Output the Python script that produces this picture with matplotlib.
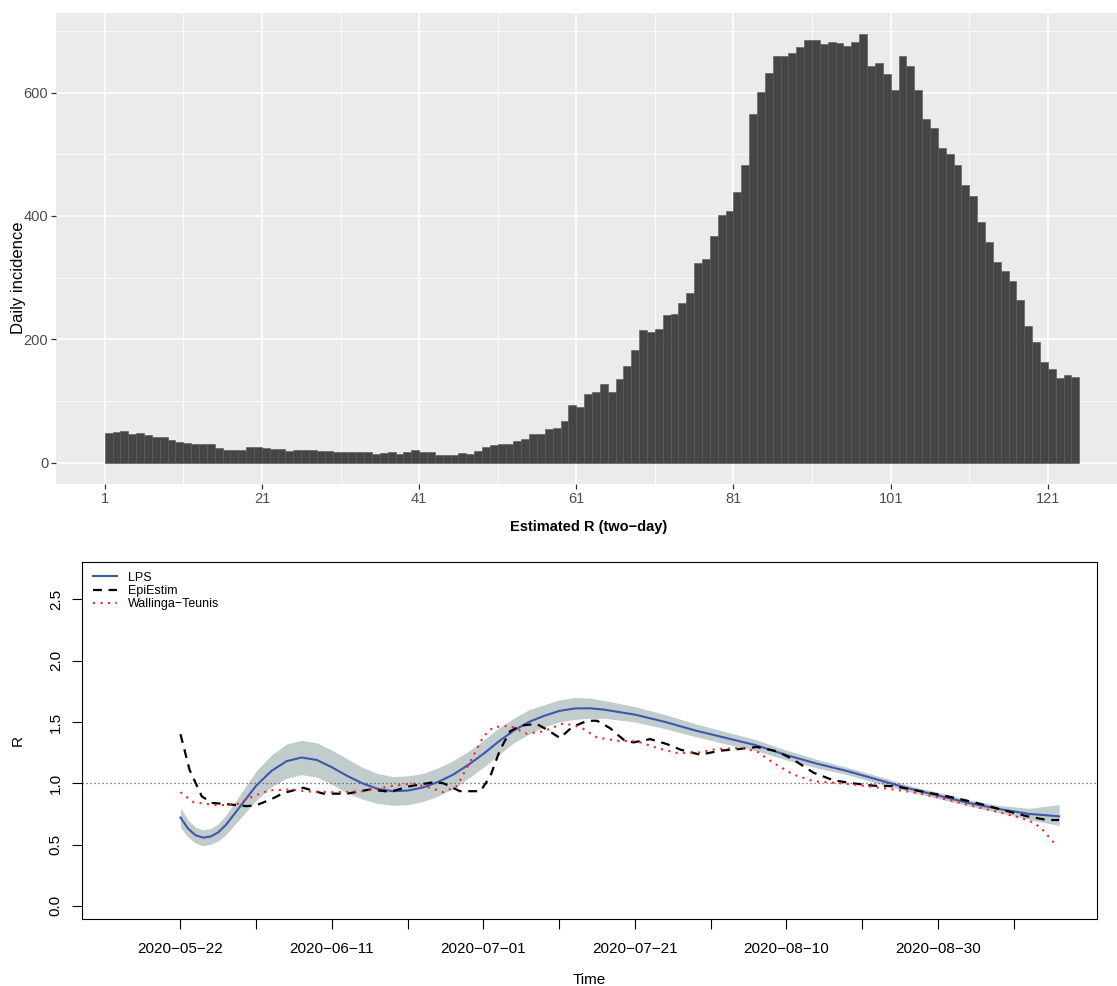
import matplotlib
matplotlib.use('Agg')
import matplotlib.pyplot as plt
import numpy as np
import pandas as pd

plt.rcParams['font.family'] = ['Liberation Sans', 'DejaVu Sans']

# ---------------- data: daily incidence (top) ----------------
incidence = [48, 50, 51, 46, 48, 44, 41, 41, 36, 34,
             31, 30, 30, 30, 23, 21, 20, 20, 26, 25,
             23, 22, 22, 18, 20, 20, 20, 18, 18, 17,
             17, 17, 17, 17, 14, 15, 17, 14, 17, 20,
             17, 17, 12, 12, 12, 15, 14, 18, 25, 28,
             30, 30, 35, 39, 46, 46, 54, 56, 67, 93,
             90, 111, 114, 127, 115, 135, 156, 182, 215, 211,
             217, 239, 241, 259, 275, 323, 330, 367, 401, 408,
             439, 483, 566, 601, 632, 659, 659, 665, 674, 686,
             686, 679, 683, 681, 675, 683, 695, 644, 648, 631,
             604, 659, 644, 604, 558, 543, 511, 501, 482, 451,
             433, 391, 357, 326, 310, 294, 263, 221, 195, 163,
             151, 137, 142, 139]

# ---------------- data: R estimates (bottom) ----------------
# time in days since first estimate date
first_date = '2020-05-22'
incidence_start = '2020-05-14'
last_date = '2020-09-15'

lps_t = [0, 1, 2, 3, 4, 5, 6, 8, 10, 12, 14, 16, 18, 20, 22, 24, 26, 28, 30, 32,
         34, 36, 38, 40, 42, 44, 46, 48, 50, 52, 54, 56, 60, 64, 68, 72, 76, 80,
         84, 88, 92, 96, 100, 104, 108, 112, 116]
lps_R = [0.72, 0.63, 0.575, 0.556, 0.565, 0.60, 0.66, 0.82, 0.98, 1.10, 1.18, 1.21,
         1.19, 1.13, 1.06, 1.00, 0.955, 0.935, 0.94, 0.965, 1.01, 1.07, 1.15, 1.24,
         1.34, 1.43, 1.50, 1.55, 1.59, 1.61, 1.612, 1.60, 1.56, 1.50, 1.43, 1.37,
         1.31, 1.23, 1.16, 1.10, 1.03, 0.96, 0.90, 0.84, 0.79, 0.75, 0.73]
lps_low = [0.64, 0.56, 0.51, 0.49, 0.50, 0.53, 0.58, 0.72, 0.86, 0.97, 1.04, 1.07,
           1.05, 0.99, 0.92, 0.87, 0.835, 0.82, 0.825, 0.85, 0.895, 0.955, 1.04, 1.13,
           1.23, 1.33, 1.40, 1.46, 1.50, 1.52, 1.53, 1.53, 1.50, 1.445, 1.38, 1.32,
           1.265, 1.19, 1.125, 1.07, 1.00, 0.935, 0.875, 0.815, 0.76, 0.705, 0.655]
lps_up = [0.80, 0.70, 0.64, 0.62, 0.63, 0.67, 0.74, 0.92, 1.10, 1.23, 1.32, 1.35,
          1.33, 1.27, 1.20, 1.13, 1.08, 1.055, 1.06, 1.08, 1.125, 1.185, 1.26, 1.35,
          1.45, 1.53, 1.60, 1.64, 1.68, 1.70, 1.695, 1.675, 1.625, 1.56, 1.485, 1.42,
          1.355, 1.27, 1.195, 1.13, 1.06, 0.985, 0.925, 0.865, 0.82, 0.795, 0.825]

epi_t = [0, 1.2, 2.8, 4.1, 6.5, 8.7, 10, 12, 13.6, 16.2, 18.8, 21.9, 25, 27.7, 30.3,
         33.4, 34.7, 36.9, 39.6, 40.9, 42.2, 43.5, 44.8, 47, 48.4, 50.1, 51.7, 53.7,
         55, 56.7, 58.5, 59.8, 62, 64.2, 66, 68.6, 71.3, 73.9, 76.1, 78.8, 80.9, 83.6,
         86.2, 88.9, 91.5, 94.2, 97.7, 101.2, 104.7, 108.3, 111.8, 114.4, 116]
epi_R = [1.40, 1.11, 0.894, 0.84, 0.827, 0.813, 0.82, 0.87, 0.92, 0.963, 0.916, 0.914,
         0.949, 0.93, 0.976, 1.008, 1.0, 0.935, 0.935, 1.057, 1.274, 1.423, 1.469, 1.485,
         1.437, 1.369, 1.458, 1.51, 1.51, 1.45, 1.355, 1.333, 1.36, 1.32, 1.274, 1.233,
         1.266, 1.28, 1.296, 1.26, 1.193, 1.085, 1.024, 0.998, 0.98, 0.976, 0.935, 0.894,
         0.846, 0.786, 0.73, 0.70, 0.70]

wt_t = [0, 1.7, 4.8, 7.4, 9.6, 11.8, 14.4, 17.1, 20.6, 24.1, 27.7, 30.7, 33, 34.7,
        36.5, 37.8, 39.1, 40, 41.3, 43.5, 45.7, 47.9, 50.6, 52.8, 55, 57.6, 60.3, 62.9,
        65.5, 68.2, 70.8, 73.9, 76.1, 78.3, 80.9, 83.6, 87.1, 90.7, 94.2, 97.7, 101.2,
        104.7, 108.3, 110.9, 112.7, 114, 115.5]
wt_R = [0.927, 0.846, 0.82, 0.827, 0.894, 0.943, 0.949, 0.932, 0.927, 0.935, 0.976,
        0.998, 0.963, 0.927, 0.976, 1.125, 1.274, 1.382, 1.458, 1.469, 1.404, 1.423,
        1.49, 1.458, 1.374, 1.347, 1.342, 1.288, 1.247, 1.247, 1.28, 1.288, 1.26, 1.166,
        1.071, 1.016, 1.0, 0.976, 0.949, 0.916, 0.867, 0.813, 0.76, 0.718, 0.678, 0.61,
        0.50]

legend_labels = ['LPS', 'EpiEstim', 'Wallinga\u2212Teunis']

W, H = 1117, 986
fig = plt.figure(figsize=(W / 100, H / 100), dpi=100)

# ================= top: ggplot-like bar chart =================
ax1 = fig.add_axes([56 / W, 1 - 484 / H, (1128 - 56) / W, (484 - 12.7) / H])
days = np.arange(1, len(incidence) + 1)
ax1.bar(days, incidence, width=1, align='edge', color='#444645',
        edgecolor='#555756', linewidth=0.4)
ax1.set_facecolor('#EBEBEB')
n = len(incidence)
ax1.set_xlim(1 - 0.05 * n, n + 1 + 0.05 * n)
ymax = max(incidence)
ax1.set_ylim(-0.05 * ymax, 1.05 * ymax)
ax1.set_xticks(range(1, n + 1, 20))
ax1.set_xticks(range(11, n + 10, 20), minor=True)
ax1.set_yticks([0, 200, 400, 600])
ax1.set_yticks([100, 300, 500, 700], minor=True)
ax1.grid(which='major', color='white', linewidth=1.2)
ax1.grid(which='minor', color='white', linewidth=0.6)
ax1.set_axisbelow(True)
for s in ax1.spines.values():
    s.set_visible(False)
ax1.tick_params(which='major', length=3.5, width=0.9, color='#333333',
                labelcolor='#4D4D4D', labelsize=10.5, pad=2)
ax1.tick_params(which='minor', length=0)
ax1.set_ylabel('Daily incidence', fontsize=12, color='black')
ax1.yaxis.set_label_coords((26 - 56) / (1128 - 56), (484 - 278) / (484 - 12.7))
ax1.set_xlabel('Estimated R (two\u2212day)', fontsize=10.5, fontweight='bold')
ax1.xaxis.set_label_coords((589 - 56) / (1128 - 56), (484 - 520) / (484 - 12.7))

# ================= bottom: base-R-like line plot =================
ax2 = fig.add_axes([82.3 / W, 1 - 919 / H, 1014.4 / W, 357.3 / H])
t0 = pd.Timestamp(first_date)
lo = (pd.Timestamp(incidence_start) - t0).days
hi = (pd.Timestamp(last_date) - t0).days

ax2.fill_between(lps_t, lps_low, lps_up, color='#C1CDCD', linewidth=0)
ax2.axhline(1.0, color='#555555', linewidth=0.9, linestyle=(0, (1, 2.2)))
ax2.plot(lps_t, lps_R, color='#3F56AE', linewidth=1.5, label=legend_labels[0])
ax2.plot(epi_t, epi_R, color='black', linewidth=1.6, linestyle=(0, (4, 3)),
         label=legend_labels[1])
ax2.plot(wt_t, wt_R, color='#FF2020', linewidth=1.5, linestyle=(0, (1, 2.6)),
         label=legend_labels[2])

ax2.set_xlim(lo - 0.04 * (hi - lo), hi + 0.04 * (hi - lo))
ax2.set_ylim(-0.04 * 2.7, 2.7 * 1.04)
tick_days = list(range(0, hi, 10))
ax2.set_xticks(tick_days)
tick_labels = [(t0 + pd.Timedelta(days=d)).strftime('%Y-%m-%d').replace('-', '\u2212')
               if d % 20 == 0 else '' for d in tick_days]
ax2.set_xticklabels(tick_labels)
ax2.set_yticks([0, 0.5, 1.0, 1.5, 2.0, 2.5])
ax2.set_yticklabels(['0.0', '0.5', '1.0', '1.5', '2.0', '2.5'])
ax2.tick_params(axis='both', direction='out', length=7, width=0.8, labelsize=11)
ax2.tick_params(axis='x', pad=9.5)
ax2.tick_params(axis='y', pad=7)
for lab in ax2.get_yticklabels():
    lab.set_rotation(90)
    lab.set_va('center')
for s in ax2.spines.values():
    s.set_linewidth(0.8)
ax2.set_ylabel('R', fontsize=11)
ax2.yaxis.set_label_coords((25 - 82.3) / 1014.4, 0.5)
ax2.set_xlabel('Time', fontsize=11)
ax2.xaxis.set_label_coords(0.5, (919 - 973) / 357.3)

ax2.legend(loc='upper left', bbox_to_anchor=(0.0105, 0.972), frameon=False,
           fontsize=9, handlelength=1.9, handletextpad=0.9, labelspacing=0.1,
           borderpad=0, borderaxespad=0)

fig.savefig('out.png', dpi=100)
